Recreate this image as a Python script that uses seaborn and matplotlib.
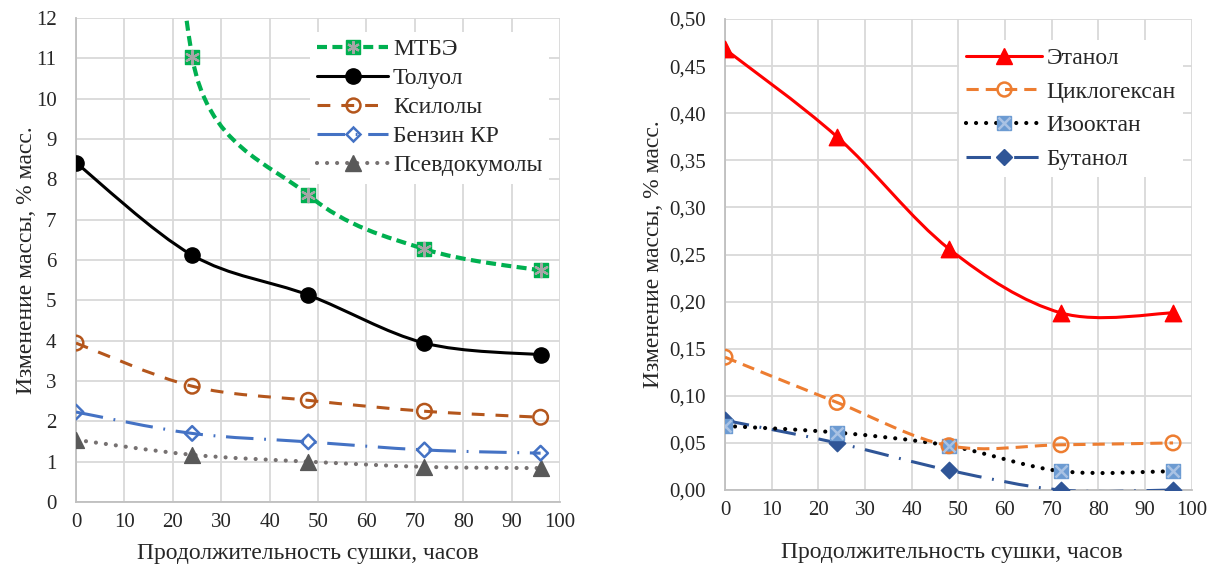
import numpy as np
import matplotlib
matplotlib.use("Agg")
import matplotlib.pyplot as plt
import seaborn as sns
from matplotlib.path import Path
from matplotlib.patches import PathPatch
from matplotlib.lines import Line2D

# drying time, hours
hours = [0, 24, 48, 72, 96]

# left panel, mass change % (MTBE at 0 h is off the scale)
mtbe = [42.0, 11.04, 7.61, 6.27, 5.74]
toluene = [8.41, 6.12, 5.13, 3.94, 3.65]
xylenes = [3.94, 2.87, 2.52, 2.25, 2.10]
benzin_kr = [2.23, 1.70, 1.49, 1.29, 1.21]
pseudocumenes = [1.54, 1.17, 1.00, 0.87, 0.84]

# right panel, mass change %
ethanol = [0.468, 0.375, 0.256, 0.188, 0.188]
cyclohexane = [0.141, 0.093, 0.047, 0.048, 0.050]
isooctane = [0.068, 0.061, 0.047, 0.020, 0.020]
butanol = [0.074, 0.050, 0.021, 0.000, 0.000]

left_labels = ["МТБЭ", "Толуол", "Ксилолы", "Бензин КР", "Псевдокумолы"]
right_labels = ["Этанол", "Циклогексан", "Изооктан", "Бутанол"]

xticks = list(range(0, 101, 10))
left_yticks = list(range(0, 13))
right_yticks = [0.0, 0.05, 0.10, 0.15, 0.20, 0.25, 0.30, 0.35, 0.40, 0.45, 0.50]
right_yticklabels = ["0,00", "0,05", "0,10", "0,15", "0,20", "0,25",
                     "0,30", "0,35", "0,40", "0,45", "0,50"]

xlabel = "Продолжительность сушки, часов"
ylabel = "Изменение массы, % масс."

sns.set_style("white")
plt.rcParams["font.family"] = ["Liberation Serif", "DejaVu Serif"]
FS_TICK = 15
FS_TEXT = 17


def arm_limit(a, seg):
    n = np.hypot(*a)
    if n > seg / 2 and n > 0:
        a = a * (seg / 2) / n
    return a


def smooth_line(ax, x, y, zorder, **kw):
    """Excel-like smoothed line (cubic Bezier through the points)."""
    pts = ax.transData.transform(np.column_stack([x, y]))
    n = len(pts)
    verts = [pts[0]]
    codes = [Path.MOVETO]
    for i in range(n - 1):
        p0 = pts[max(i - 1, 0)]
        p1, p2 = pts[i], pts[i + 1]
        p3 = pts[min(i + 2, n - 1)]
        seg = np.hypot(*(p2 - p1))
        a1 = arm_limit((p2 - p0) / 6, seg)
        a2 = arm_limit((p3 - p1) / 6, seg)
        verts += [p1 + a1, p2 - a2, p2]
        codes += [Path.CURVE4] * 3
    verts = ax.transData.inverted().transform(np.array(verts))
    ax.add_patch(PathPatch(Path(verts, codes), fill=False, zorder=zorder, **kw))


def markers(ax, y, marker, s, face, edge, lw, zorder):
    sns.scatterplot(x=hours, y=y, ax=ax, marker=marker, s=s, facecolor=face,
                    edgecolor=edge, linewidth=lw, zorder=zorder, legend=False)


def style_axes(ax, xlab_pos, ylab_pos):
    ax.set_xlim(0, 100)
    ax.set_xticks(xticks)
    ax.grid(True, color="#d9d9d9", linewidth=1.3)
    ax.set_axisbelow(True)
    for side in ["top", "right"]:
        ax.spines[side].set_visible(False)
    for side in ["left", "bottom"]:
        ax.spines[side].set_color("#bfbfbf")
        ax.spines[side].set_linewidth(1.3)
    ax.tick_params(axis="both", length=0, labelsize=FS_TICK)
    ax.tick_params(axis="x", pad=8)
    ax.tick_params(axis="y", pad=14)
    ax.set_xlabel(xlabel, fontsize=FS_TEXT)
    ax.set_ylabel(ylabel, fontsize=FS_TEXT)
    ax.xaxis.set_label_coords(*xlab_pos)
    ax.yaxis.set_label_coords(*ylab_pos)


fig = plt.figure(figsize=(12.16, 5.69), dpi=100)
ax1 = fig.add_axes([0.0625, 0.1178, 0.398, 0.8506])
ax2 = fig.add_axes([0.5962, 0.1388, 0.3838, 0.8278])

# ---------- left panel ----------
style_axes(ax1, (0.479, -0.084), (-0.081, 0.5))
ax1.set_ylim(0, 12)
ax1.set_yticks(left_yticks)

green, black, brown, blue, grey = "#00b050", "#000000", "#b4561c", "#4472c4", "#767171"
smooth_line(ax1, hours, pseudocumenes, 3, color=grey, lw=3, linestyle=(0, (0.01, 2.4)), capstyle="round")
smooth_line(ax1, hours, benzin_kr, 3, color=blue, lw=2.2, linestyle=(0, (9, 3.5, 0.6, 3.5)))
smooth_line(ax1, hours, xylenes, 3, color=brown, lw=2.2, linestyle=(0, (4.2, 3.6)))
smooth_line(ax1, hours, toluene, 3, color=black, lw=2.2)
smooth_line(ax1, hours, mtbe, 3, color=green, lw=3, linestyle=(0, (2.4, 1.3)))
markers(ax1, pseudocumenes, "^", 130, "#595959", "#595959", 1, 4)
markers(ax1, benzin_kr, "D", 55, "none", blue, 1.8, 4)
markers(ax1, xylenes, "o", 110, "none", brown, 1.8, 4)
markers(ax1, toluene, "o", 120, black, black, 1, 4)
markers(ax1, mtbe, "s", 115, green, green, 1, 4)
markers(ax1, mtbe, (6, 2, 0), 90, "#a6a6a6", "#a6a6a6", 1.6, 5)

h_left = [
    (Line2D([], [], color=green, lw=3, linestyle=(0, (2.4, 1.3)), marker="s", ms=10, mfc=green, mec=green),
     Line2D([], [], linestyle="none", marker=(6, 2, 0), ms=9, mec="#a6a6a6", mew=1.6)),
    Line2D([], [], color=black, lw=2.2, marker="o", ms=11, mfc=black, mec=black),
    Line2D([], [], color=brown, lw=2.2, linestyle=(0, (4.2, 3.6)), marker="o", ms=10, mfc="none", mec=brown, mew=1.8),
    Line2D([], [], color=blue, lw=2.2, linestyle=(0, (9, 3.5, 0.6, 3.5)), marker="D", ms=7, mfc="none", mec=blue, mew=1.8),
    Line2D([], [], color=grey, lw=3, linestyle=(0, (0.01, 2.4)), dash_capstyle="round", marker="^", ms=11, mfc="#595959", mec="#595959"),
]
ax1.legend(h_left, left_labels, loc="upper right", bbox_to_anchor=(0.978, 0.972),
           fontsize=FS_TEXT, frameon=True, framealpha=1, edgecolor="none", handlelength=3.0,
           handletextpad=0.2, labelspacing=0.32, borderpad=0.3, borderaxespad=0)

# ---------- right panel ----------
style_axes(ax2, (0.486, -0.11), (-0.131, 0.5))
ax2.set_ylim(0, 0.5)
ax2.set_yticks(right_yticks)
ax2.set_yticklabels(right_yticklabels)

red, orange, lblue, dblue = "#ff0000", "#ed7d31", "#6c9bd2", "#2f5597"
smooth_line(ax2, hours, butanol, 3, color=dblue, lw=2.2, linestyle=(0, (8, 3.5, 0.6, 3.5)))
smooth_line(ax2, hours, isooctane, 3, color=black, lw=3, linestyle=(0, (0.01, 2.4)), capstyle="round")
smooth_line(ax2, hours, cyclohexane, 3, color=orange, lw=2.2, linestyle=(0, (4, 2.3)))
smooth_line(ax2, hours, ethanol, 3, color=red, lw=2.2)
markers(ax2, butanol, "D", 70, dblue, dblue, 1, 4)
markers(ax2, isooctane, "s", 115, lblue, lblue, 1, 4)
markers(ax2, isooctane, "x", 75, "#a9c2e4", "#a9c2e4", 1.8, 5)
markers(ax2, cyclohexane, "o", 110, "none", orange, 1.8, 4)
markers(ax2, ethanol, "^", 140, red, red, 1, 4)

h_right = [
    Line2D([], [], color=red, lw=2.2, marker="^", ms=12, mfc=red, mec=red),
    Line2D([], [], color=orange, lw=2.2, linestyle=(0, (4, 2.3)), marker="o", ms=10, mfc="none", mec=orange, mew=1.8),
    (Line2D([], [], color=black, lw=3, linestyle=(0, (0.01, 2.4)), dash_capstyle="round", marker="s", ms=10, mfc=lblue, mec=lblue),
     Line2D([], [], linestyle="none", marker="x", ms=8, mec="#a9c2e4", mew=1.8)),
    Line2D([], [], color=dblue, lw=2.2, linestyle=(0, (8, 3.5, 0.6, 3.5)), marker="D", ms=8, mfc=dblue, mec=dblue),
]
ax2.legend(h_right, right_labels, loc="upper right", bbox_to_anchor=(0.981, 0.955),
           fontsize=FS_TEXT, frameon=True, framealpha=1, edgecolor="none", handlelength=3.2,
           handletextpad=0.2, labelspacing=0.52, borderpad=0.3, borderaxespad=0)

fig.savefig("out.png", dpi=100)
